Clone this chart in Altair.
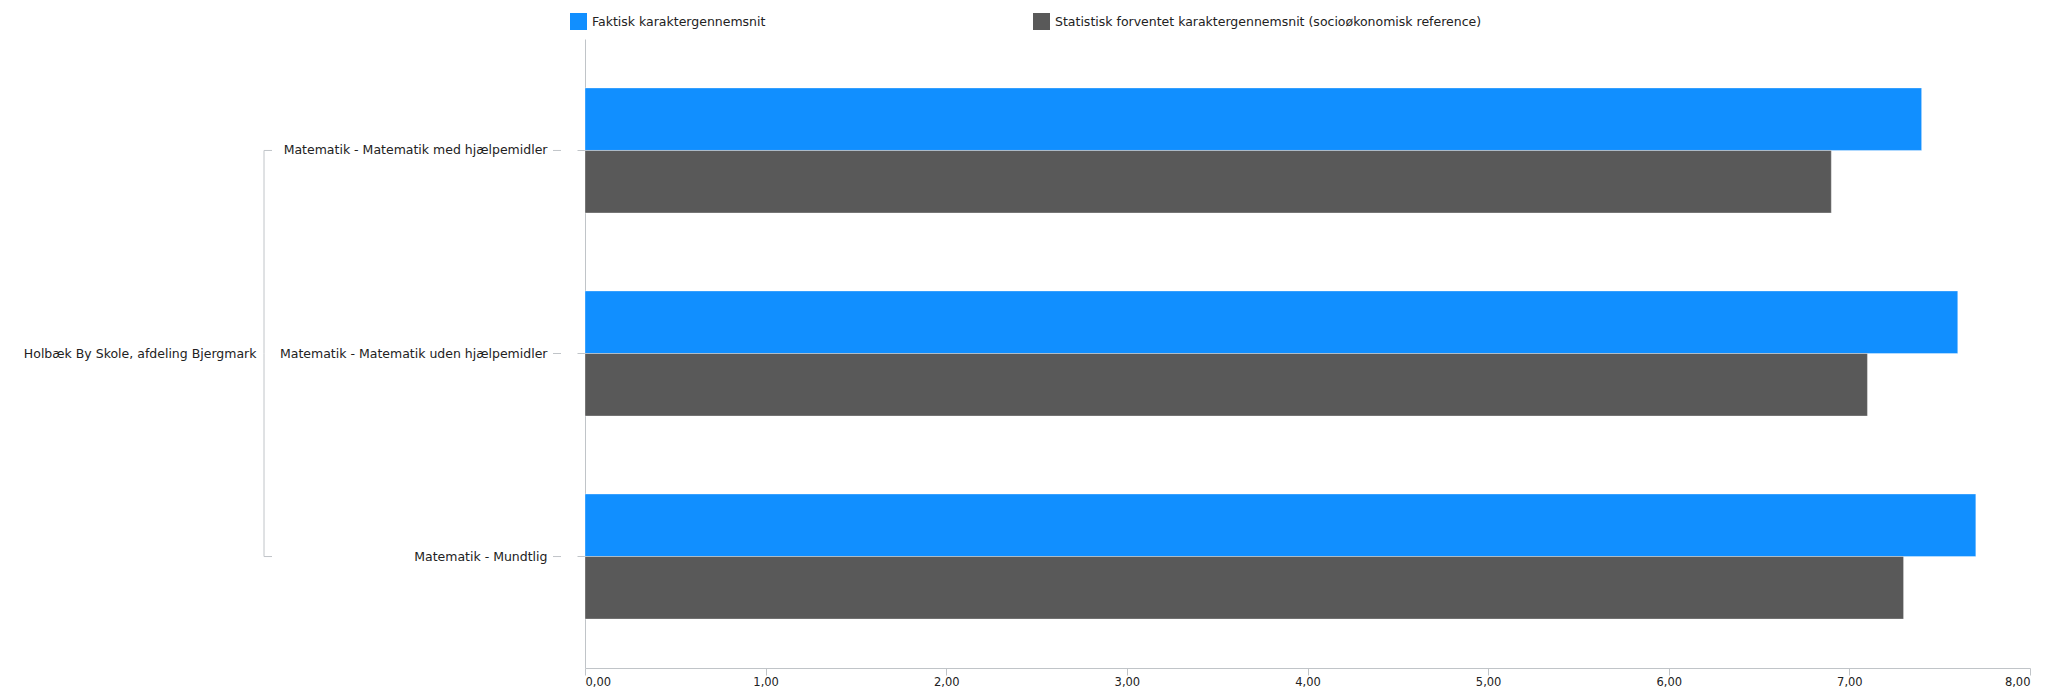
import altair as alt
import pandas as pd

categories = [
    "Matematik - Matematik med hjælpemidler",
    "Matematik - Matematik uden hjælpemidler",
    "Matematik - Mundtlig",
]
series = [
    "Faktisk karaktergennemsnit",
    "Statistisk forventet karaktergennemsnit (socioøkonomisk reference)",
]
actual = [7.4, 7.6, 7.7]
expected = [6.9, 7.1, 7.3]
group_label = "Holbæk By Skole, afdeling Bjergmark"
x_ticks = [0, 1, 2, 3, 4, 5, 6, 7, 8]
colors = ["#118FFF", "#595959"]

rows = []
for c, a, e in zip(categories, actual, expected):
    rows.append({"Fag": c, "Serie": series[0], "Værdi": a})
    rows.append({"Fag": c, "Serie": series[1], "Værdi": e})
df = pd.DataFrame(rows)
df_cat = pd.DataFrame({"Fag": categories})
df_ends = pd.DataFrame({"Fag": [categories[0], categories[-1]]})

FONT = "DejaVu Sans"
AXIS_GREY = "#C0C4C8"
TEXT = "#222222"

y_enc = alt.Y(
    "Fag:N",
    sort=categories,
    scale=alt.Scale(paddingInner=0.384, paddingOuter=0.241),
    axis=alt.Axis(
        title=group_label,
        titleAngle=0,
        titleAlign="right",
        titleBaseline="middle",
        titleX=-329,
        titleY=314.5,
        titleFontWeight="normal",
        titleFontSize=12.5,
        titleFont=FONT,
        titleColor=TEXT,
        labelFontSize=12.5,
        labelFont=FONT,
        labelColor=TEXT,
        labelPadding=30,
        labelLimit=400,
        tickSize=8,
        tickColor=AXIS_GREY,
        domainColor=AXIS_GREY,
        grid=False,
    ),
)

bars = alt.Chart(df).mark_bar(stroke="white", strokeWidth=1, strokeOpacity=0.35).encode(
    y=y_enc,
    yOffset=alt.YOffset("Serie:N", sort=series),
    x=alt.X(
        "Værdi:Q",
        scale=alt.Scale(domain=[0, 8], nice=False),
        axis=alt.Axis(
            values=x_ticks,
            labelExpr="replace(format(datum.value, '.2f'), '.', ',')",
            grid=False,
            tickSize=7,
            tickColor=AXIS_GREY,
            domainColor=AXIS_GREY,
            labelFontSize=11.5,
            labelFont=FONT,
            labelColor=TEXT,
            labelPadding=1,
            title=None,
        ),
    ),
    color=alt.Color(
        "Serie:N",
        sort=series,
        scale=alt.Scale(domain=series, range=colors),
        legend=alt.Legend(
            title=None,
            orient="none",
            legendX=-15,
            legendY=-26,
            direction="horizontal",
            symbolType="square",
            symbolSize=289,
            symbolStrokeWidth=0,
            labelFontSize=12.5,
            labelFont=FONT,
            labelColor=TEXT,
            labelOffset=5,
            labelLimit=700,
            columnPadding=267,
            padding=0,
        ),
    ),
)

dashes = alt.Chart(df_cat).mark_rule(color=AXIS_GREY).encode(
    y=y_enc, x=alt.value(-32), x2=alt.value(-24)
)

bracket_v = alt.Chart(df_cat).mark_line(color=AXIS_GREY, strokeWidth=1).encode(
    y=y_enc, x=alt.value(-321)
)

bracket_h = alt.Chart(df_ends).mark_rule(color=AXIS_GREY).encode(
    y=y_enc, x=alt.value(-321), x2=alt.value(-313)
)

chart = (
    alt.layer(bars, dashes, bracket_v, bracket_h)
    .properties(
        width=1445,
        height=629,
        autosize=alt.AutoSizeParams(type="none"),
        padding={"left": 577, "top": 31, "right": 13, "bottom": 21},
    )
    .configure(font=FONT)
    .configure_view(stroke=None, strokeWidth=0)
)

chart.save("out.html", embed_options={"renderer": "svg", "actions": False})
